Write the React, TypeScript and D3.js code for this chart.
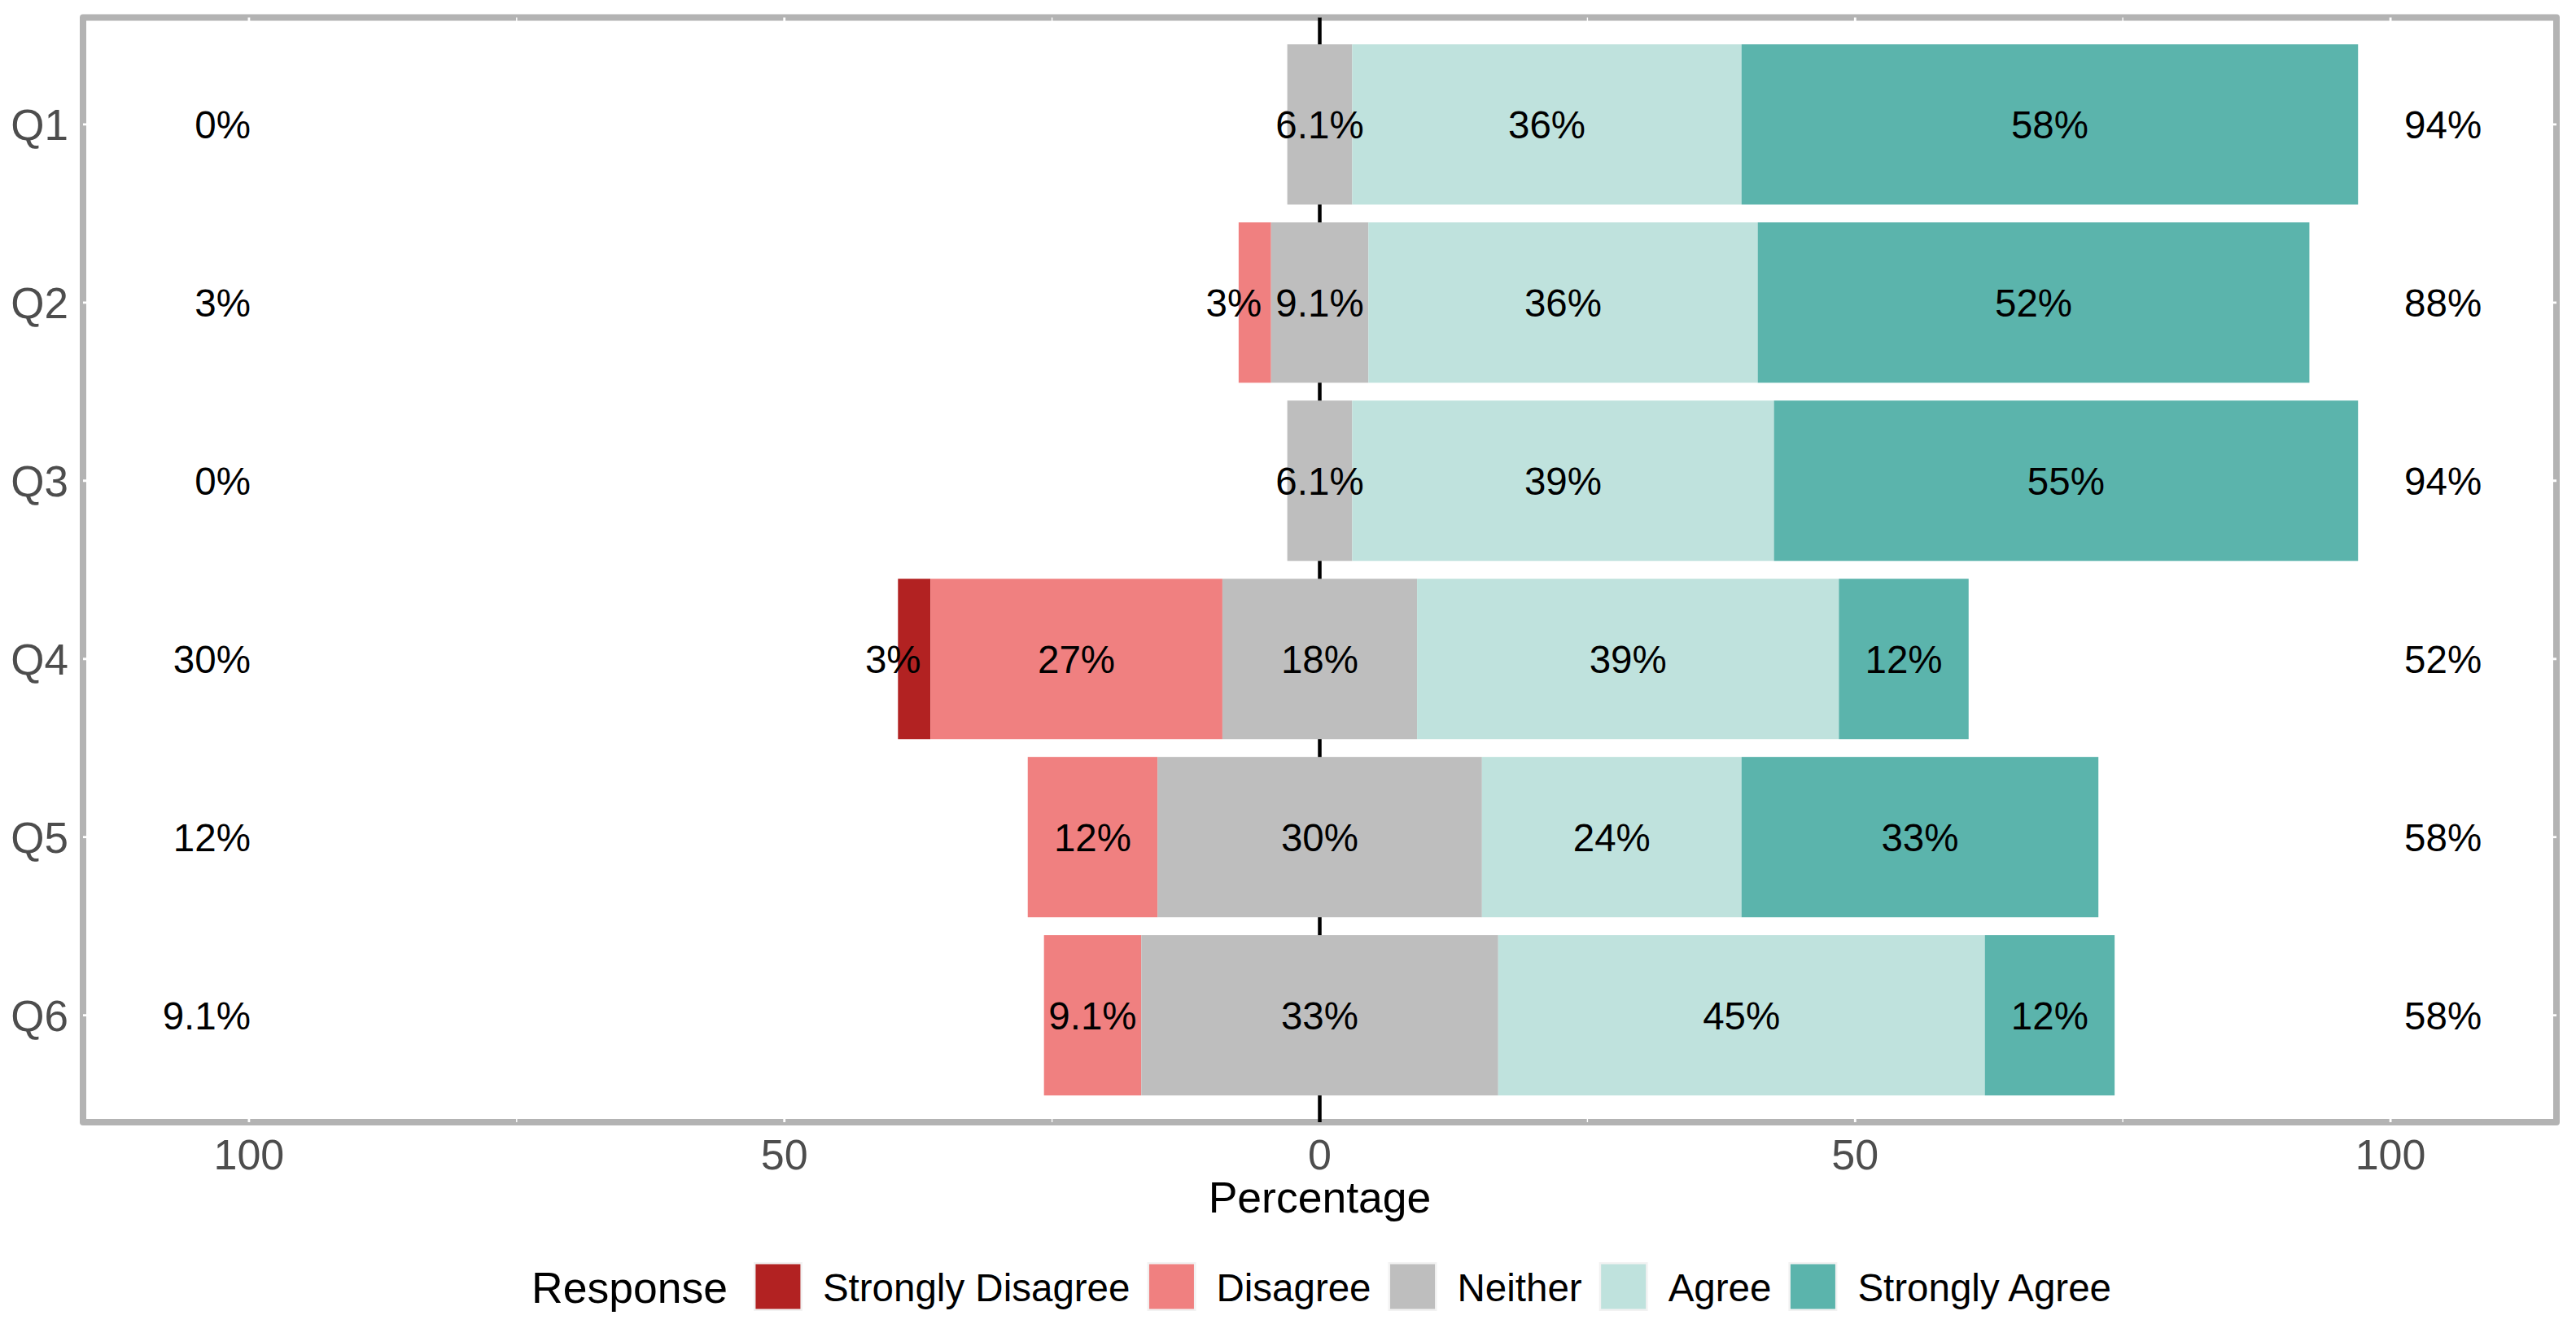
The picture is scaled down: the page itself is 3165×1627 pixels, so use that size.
import React from "react";
import * as d3 from "d3";

// ---- data (percent of respondents) ----
const questions = ["Q1", "Q2", "Q3", "Q4", "Q5", "Q6"];
const responses = ["Strongly Disagree", "Disagree", "Neither", "Agree", "Strongly Agree"];
const stronglyDisagree = [0, 0, 0, 3.03, 0, 0];
const disagree = [0, 3.03, 0, 27.27, 12.12, 9.09];
const neither = [6.06, 9.09, 6.06, 18.18, 30.3, 33.33];
const agree = [36.36, 36.36, 39.39, 39.39, 24.24, 45.45];
const stronglyAgree = [57.58, 51.52, 54.55, 12.12, 33.33, 12.12];
const xTicks = [-100, -50, 0, 50, 100];
const xTickLabels = ["100", "50", "0", "50", "100"];
const xMinorTicks = [-75, -25, 25, 75];
const responseColors = ["#B22222", "#F08080", "#BEBEBE", "#BFE2DD", "#5BB4AC"];

const W = 3165;
const H = 1627;
const FONT = "'Liberation Sans', Arial, Helvetica, sans-serif";

const fmt = (v: number) => `${+v.toPrecision(2)}%`;

let _ctx: CanvasRenderingContext2D | null = null;
function measure(text: string, size: number): number {
  if (!_ctx) _ctx = document.createElement("canvas").getContext("2d");
  if (!_ctx) return text.length * size * 0.55;
  _ctx.font = `${size}px 'Liberation Sans'`;
  return _ctx.measureText(text).width;
}

export default function App() {
  const series = [stronglyDisagree, disagree, neither, agree, stronglyAgree];

  const panel = { left: 102, right: 3141, top: 21.5, bottom: 1379 };
  const x = d3.scaleLinear().domain([-115.5, 115.5]).range([panel.left, panel.right]);
  const y = d3
    .scaleBand<string>()
    .domain(questions)
    .range([panel.top, panel.bottom])
    .paddingInner(0.1)
    .paddingOuter(0.15);

  const labelSize = 47.5;

  // segments
  const segments: { q: string; r: number; x0: number; x1: number; v: number }[] = [];
  questions.forEach((q, i) => {
    const vals = series.map((s) => s[i]);
    let cur = -(vals[0] + vals[1] + vals[2] / 2);
    vals.forEach((v, r) => {
      segments.push({ q, r, x0: cur, x1: cur + v, v });
      cur += v;
    });
  });
  const lows = questions.map((_, i) => stronglyDisagree[i] + disagree[i]);
  const highs = questions.map((_, i) => agree[i] + stronglyAgree[i]);

  const labelX = (s: { x0: number; x1: number; v: number }) => {
    const pw = x(s.x1) - x(s.x0);
    const tw = measure(fmt(s.v), labelSize);
    // narrow segments on the negative side: label sits at the outer edge
    if (s.x1 <= 0 && tw > pw) return x(s.x0) - 6;
    return x((s.x0 + s.x1) / 2);
  };

  // legend layout
  const titleSize = 53.5;
  const legSize = 47.5;
  const keySize = 60;
  const legendBaseline = 1599;
  const keyTop = 1551;
  let cx = 653;
  const titleX = cx;
  cx += measure("Response", titleSize) + 32;
  const legendItems = responses.map((r, i) => {
    const kx = cx;
    const lx = kx + 85;
    const w = measure(r, legSize);
    cx = lx + w + 21;
    return { r, i, kx, lx };
  });

  const cy = (q: string) => (y(q) as number) + y.bandwidth() / 2;

  return (
    <svg
      width={W}
      height={H}
      viewBox={`0 0 ${W} ${H}`}
      style={{ position: "absolute", left: 0, top: 0, display: "block", background: "#fff" }}
      fontFamily={FONT}
    >
      <rect x={0} y={0} width={W} height={H} fill="#fff" />
      {/* panel border */}
      <rect
        x={panel.left}
        y={panel.top}
        width={panel.right - panel.left}
        height={panel.bottom - panel.top}
        fill="#fff"
        stroke="#B3B3B3"
        strokeWidth={8}
        strokeLinejoin="round"
      />
      {/* white grid lines (visible as notches on border) */}
      {xMinorTicks.map((t) => (
        <line key={"mn" + t} x1={x(t)} x2={x(t)} y1={panel.top} y2={panel.bottom} stroke="#fff" strokeWidth={1.4} />
      ))}
      {xTicks.map((t) => (
        <line key={"mj" + t} x1={x(t)} x2={x(t)} y1={panel.top} y2={panel.bottom} stroke="#fff" strokeWidth={2.8} />
      ))}
      {questions.map((q) => (
        <line key={"hg" + q} x1={panel.left} x2={panel.right} y1={cy(q)} y2={cy(q)} stroke="#fff" strokeWidth={2.8} />
      ))}
      {/* zero line */}
      <line x1={x(0)} x2={x(0)} y1={panel.top} y2={panel.bottom} stroke="#000" strokeWidth={4.5} />
      {/* bars */}
      {segments
        .filter((s) => s.v > 0)
        .map((s) => (
          <rect
            key={s.q + s.r}
            x={x(s.x0)}
            y={y(s.q)}
            width={x(s.x1) - x(s.x0)}
            height={y.bandwidth()}
            fill={responseColors[s.r]}
          />
        ))}
      {/* segment labels */}
      {segments
        .filter((s) => s.v > 0)
        .map((s) => (
          <text
            key={"t" + s.q + s.r}
            x={labelX(s)}
            y={cy(s.q) + 17}
            fontSize={labelSize}
            textAnchor="middle"
            fill="#000"
          >
            {fmt(s.v)}
          </text>
        ))}
      {/* low / high totals */}
      {questions.map((q, i) => (
        <text key={"lo" + q} x={x(-100) + 2} y={cy(q) + 17} fontSize={labelSize} textAnchor="end" fill="#000">
          {fmt(lows[i])}
        </text>
      ))}
      {questions.map((q, i) => (
        <text key={"hi" + q} x={x(100) + 17} y={cy(q) + 17} fontSize={labelSize} textAnchor="start" fill="#000">
          {fmt(highs[i])}
        </text>
      ))}
      {/* y axis labels */}
      {questions.map((q) => (
        <text key={"yl" + q} x={84} y={cy(q) + 19} fontSize={53} textAnchor="end" fill="#4D4D4D">
          {q}
        </text>
      ))}
      {/* x axis labels */}
      {xTicks.map((t, i) => (
        <text key={"xl" + t} x={x(t)} y={1437} fontSize={52} textAnchor="middle" fill="#4D4D4D">
          {xTickLabels[i]}
        </text>
      ))}
      <text x={x(0)} y={1490} fontSize={53.5} textAnchor="middle" fill="#000">
        Percentage
      </text>
      {/* legend */}
      <text x={titleX} y={legendBaseline + 2} fontSize={titleSize} fill="#000">
        Response
      </text>
      {legendItems.map((it) => (
        <g key={"lg" + it.r}>
          <rect x={it.kx} y={keyTop} width={keySize} height={keySize} fill="#F2F2F2" />
          <rect
            x={it.kx + 2.5}
            y={keyTop + 2.5}
            width={keySize - 5}
            height={keySize - 5}
            fill={responseColors[it.i]}
          />
          <text x={it.lx} y={legendBaseline} fontSize={legSize} fill="#000">
            {it.r}
          </text>
        </g>
      ))}
    </svg>
  );
}
